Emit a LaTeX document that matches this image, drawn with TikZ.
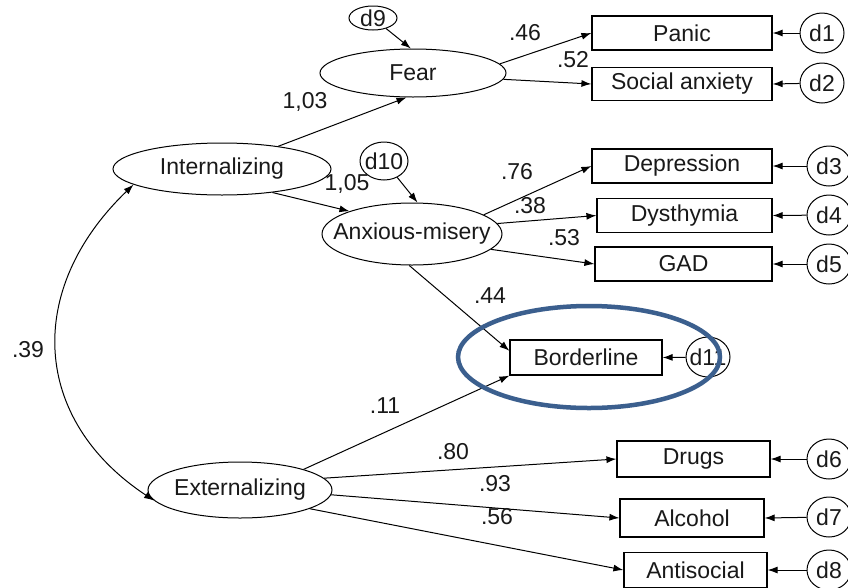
\documentclass[tikz,border=0pt]{standalone}
\usepackage{fontspec}
\setmainfont{Liberation Sans}
\usetikzlibrary{shapes.geometric,arrows.meta}
\definecolor{hlblue}{RGB}{59,95,142}
\begin{document}
\begin{tikzpicture}[x=1pt,y=-1pt,
  every node/.style={font=\fontsize{23}{25}\selectfont, text=black!90},
  lat/.style={draw, ellipse, inner sep=0pt, line width=1pt, fill=white},
  obs/.style={draw, rectangle, inner sep=0pt, minimum height=34pt, line width=1.2pt, fill=white},
  err/.style={draw, ellipse, inner sep=0pt, minimum width=44pt, minimum height=40pt, line width=1pt, fill=white},
  coef/.style={inner sep=0pt},
  arr/.style={line width=1pt, -{Latex[length=10pt,width=7pt]}},
  dbl/.style={line width=1pt, {Latex[length=10pt,width=7pt]}-{Latex[length=10pt,width=7pt]}},
  hl/.style={draw=hlblue, line width=4.5pt, ellipse, inner sep=0pt}
]
\fill[white] (0,0) rectangle (848,587);
\useasboundingbox (0,0) rectangle (848,587);

% latent variables
\node[lat, minimum width=186pt, minimum height=48pt] (fear) at (413,73) {\makebox[0pt]{Fear}};
\node[lat, minimum width=218pt, minimum height=52pt] (int) at (222,169) {\makebox[0pt]{Internalizing}};
\node[lat, minimum width=180pt, minimum height=62pt] (am) at (412,234) {\makebox[0pt]{Anxious-misery}};
\node[lat, minimum width=184pt, minimum height=56pt] (ext) at (240,490) {\makebox[0pt]{Externalizing}};

% observed variables
\node[obs, minimum width=180pt] (panic) at (682,33) {\makebox[0pt]{Panic}};
\node[obs, minimum width=180pt, minimum height=33pt] (soc) at (682,84) {\makebox[0pt]{Social anxiety}};
\node[obs, minimum width=180pt] (dep) at (682,166) {\makebox[0pt]{Depression}};
\node[obs, minimum width=175pt] (dys) at (684.5,215.5) {\makebox[0pt]{Dysthymia}};
\node[obs, minimum width=177pt] (gad) at (683.5,264) {\makebox[0pt]{GAD}};
\node[obs, minimum width=152pt, minimum height=35pt] (bord) at (586,357.5) {\makebox[0pt]{Borderline}};
\node[obs, minimum width=153pt, minimum height=36pt] (drugs) at (693.5,459) {\makebox[0pt]{Drugs}};
\node[obs, minimum width=144pt, minimum height=38pt] (alc) at (692,518) {\makebox[0pt]{Alcohol}};
\node[obs, minimum width=143pt, minimum height=35pt] (anti) at (695.5,570) {\makebox[0pt]{Antisocial}};

% error terms
\node[err, minimum width=48pt, minimum height=24pt] (d9) at (373,18) {\makebox[0pt]{d9}};
\node[err, minimum width=48pt, minimum height=38pt] (d10) at (384,161) {\makebox[0pt]{d10}};
\node[err] (d11) at (708,357) {\makebox[0pt]{d11}};
\node[err] (d1) at (822,33) {\makebox[0pt]{d1}};
\node[err] (d2) at (822,83) {\makebox[0pt]{d2}};
\node[err] (d3) at (829,166) {\makebox[0pt]{d3}};
\node[err] (d4) at (829,215) {\makebox[0pt]{d4}};
\node[err] (d5) at (829,264) {\makebox[0pt]{d5}};
\node[err] (d6) at (829,459) {\makebox[0pt]{d6}};
\node[err] (d7) at (829,517) {\makebox[0pt]{d7}};
\node[err] (d8) at (829,570) {\makebox[0pt]{d8}};

% structural paths
\draw[arr] (d9) -- (fear.95);
\draw[arr] (int.22) -- (fear.255);
\draw[arr] (int.-25) -- (am.160);
\draw[arr] (d10) -- (am.80);
\draw[arr] (fear.6) -- (panic.west);
\draw[arr] (fear.-4) -- (soc.west);
\draw[arr] (am.15) -- (dep.west);
\draw[arr] (am.7) -- (dys.west);
\draw[arr] (am.-11) -- (gad.west);
\draw[arr] (am.265) -- (bord.175);
\draw[arr] (ext.18) -- (bord.south west);
\draw[arr] (ext.8) -- (drugs.west);
\draw[arr] (ext.-3) -- (alc.west);
\draw[arr] (ext.-15) -- (anti.west);
\draw[dbl] (int.190) .. controls (24,290) and (32,420) .. (ext.187);

% error paths
\draw[arr] (d1) -- (panic.east);
\draw[arr] (d2) -- (soc.east);
\draw[arr] (d3) -- (dep.east);
\draw[arr] (d4) -- (dys.east);
\draw[arr] (d5) -- (gad.east);
\draw[arr] (d6) -- (drugs.east);
\draw[arr] (d7) -- (alc.east);
\draw[arr] (d8) -- (anti.east);
\draw[arr] (d11) -- (bord.east);

% coefficients
\node[coef] (c46) at (525,33) {.46};
\node[coef] (c52) at (573,60) {.52};
\node[coef] (c103) at (305,102) {1,03};
\node[coef] (c105) at (347,184) {1,05};
\node[coef] (c76) at (517,172) {.76};
\node[coef] (c38) at (530,206) {.38};
\node[coef] (c53) at (564,238) {.53};
\node[coef] (c44) at (490,296) {.44};
\node[coef] (c11) at (385,406) {.11};
\node[coef] (c80) at (453,452) {.80};
\node[coef] (c93) at (495,484) {.93};
\node[coef] (c56) at (497,517) {.56};
\node[coef] (c39) at (28,350) {.39};

% highlight
\node[hl, minimum width=262pt, minimum height=102pt] (hlring) at (589,357) {};
\end{tikzpicture}
\end{document}
